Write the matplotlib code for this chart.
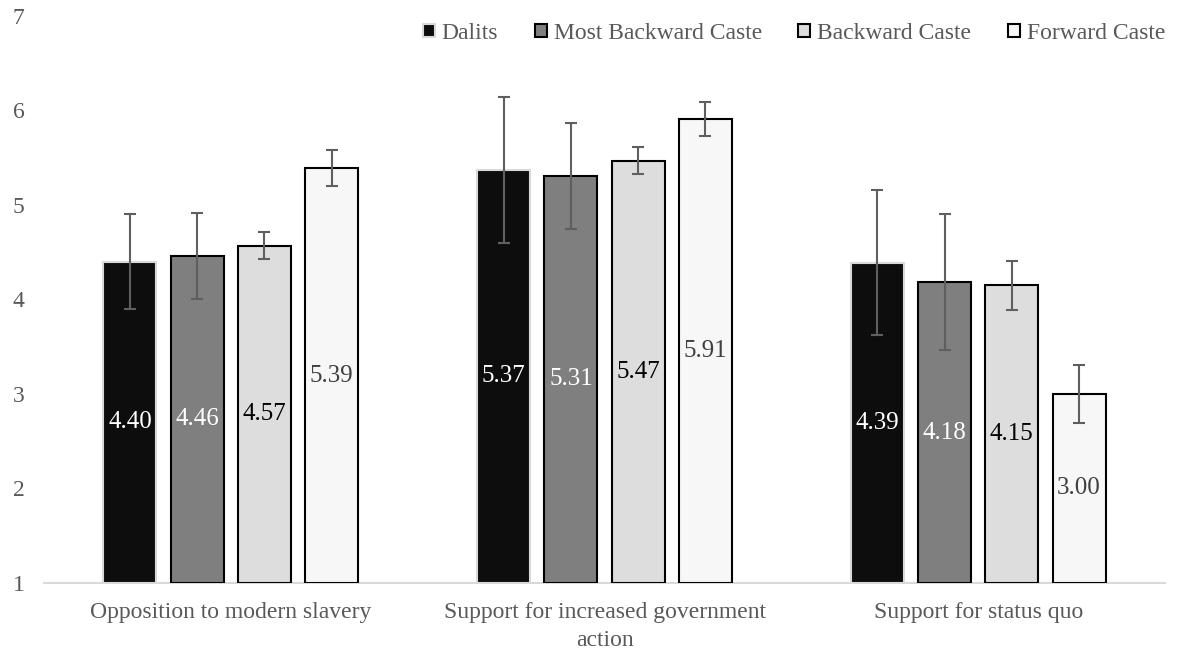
import matplotlib
matplotlib.use("Agg")
import matplotlib.pyplot as plt
from matplotlib.patches import Patch
import numpy as np

plt.rcParams['font.family'] = ['Liberation Serif', 'DejaVu Serif']

categories = ["Opposition to modern slavery", "Support for increased government\naction", "Support for status quo"]
series = ["Dalits", "Most Backward Caste", "Backward Caste", "Forward Caste"]
values = {
    "Dalits": [4.40, 5.37, 4.39],
    "Most Backward Caste": [4.46, 5.31, 4.18],
    "Backward Caste": [4.57, 5.47, 4.15],
    "Forward Caste": [5.39, 5.91, 3.00],
}
errors = {
    "Dalits": [0.50, 0.77, 0.77],
    "Most Backward Caste": [0.45, 0.56, 0.72],
    "Backward Caste": [0.14, 0.14, 0.26],
    "Forward Caste": [0.19, 0.18, 0.31],
}
colors = ["#0d0d0d", "#7f7f7f", "#dddddd", "#f7f7f7"]
edges = ["#d9d9d9", "#000000", "#000000", "#000000"]
label_colors = ["#ffffff", "#ffffff", "#000000", "#404040"]

fig = plt.figure(figsize=(11.77, 6.51), dpi=100)
ax = fig.add_axes([0.0374, 0.1045, 0.9524, 0.871])

x = np.arange(len(categories))
step = 0.18
width = 0.142
for i, s in enumerate(series):
    pos = x + (i - 1.5) * step
    vals = np.array(values[s])
    ax.bar(pos, vals - 1, width, bottom=1, color=colors[i], edgecolor=edges[i], linewidth=1.5, zorder=2)
    ax.errorbar(pos, vals, yerr=errors[s], fmt='none', ecolor="#5f5f5f", elinewidth=1.5,
                capsize=4.5, capthick=1.5, zorder=3)
    for p, v in zip(pos, vals):
        ax.text(p, (1 + v) / 2, f"{v:.2f}", ha='center', va='center', fontsize=18,
                color=label_colors[i], zorder=4)

ax.set_xlim(-0.5, 2.5)
ax.set_ylim(1, 7)
ax.set_yticks(range(1, 8))
ax.set_xticks(x)
ax.set_xticklabels(categories, fontsize=17, color="#595959", linespacing=1.4)
ax.tick_params(axis='y', length=0, pad=14, labelsize=17, labelcolor="#595959")
ax.tick_params(axis='x', length=0, pad=14)
for sp in ['top', 'right', 'left']:
    ax.spines[sp].set_visible(False)
ax.spines['bottom'].set_color("#d9d9d9")
ax.spines['bottom'].set_linewidth(1.5)
ax.spines['bottom'].set_zorder(1)

handles = [Patch(facecolor=colors[i], edgecolor=edges[i] if i else "#d9d9d9", linewidth=1.5, label=s)
           for i, s in enumerate(series)]
leg = fig.legend(handles=handles, loc='upper right', bbox_to_anchor=(0.998, 0.979), ncol=4,
                 frameon=False, fontsize=17, handlelength=0.5, handleheight=0.5,
                 handletextpad=0.3, columnspacing=1.55, labelcolor="#595959",
                 borderaxespad=0.2, borderpad=0.2)

fig.savefig("out.png", dpi=100)
